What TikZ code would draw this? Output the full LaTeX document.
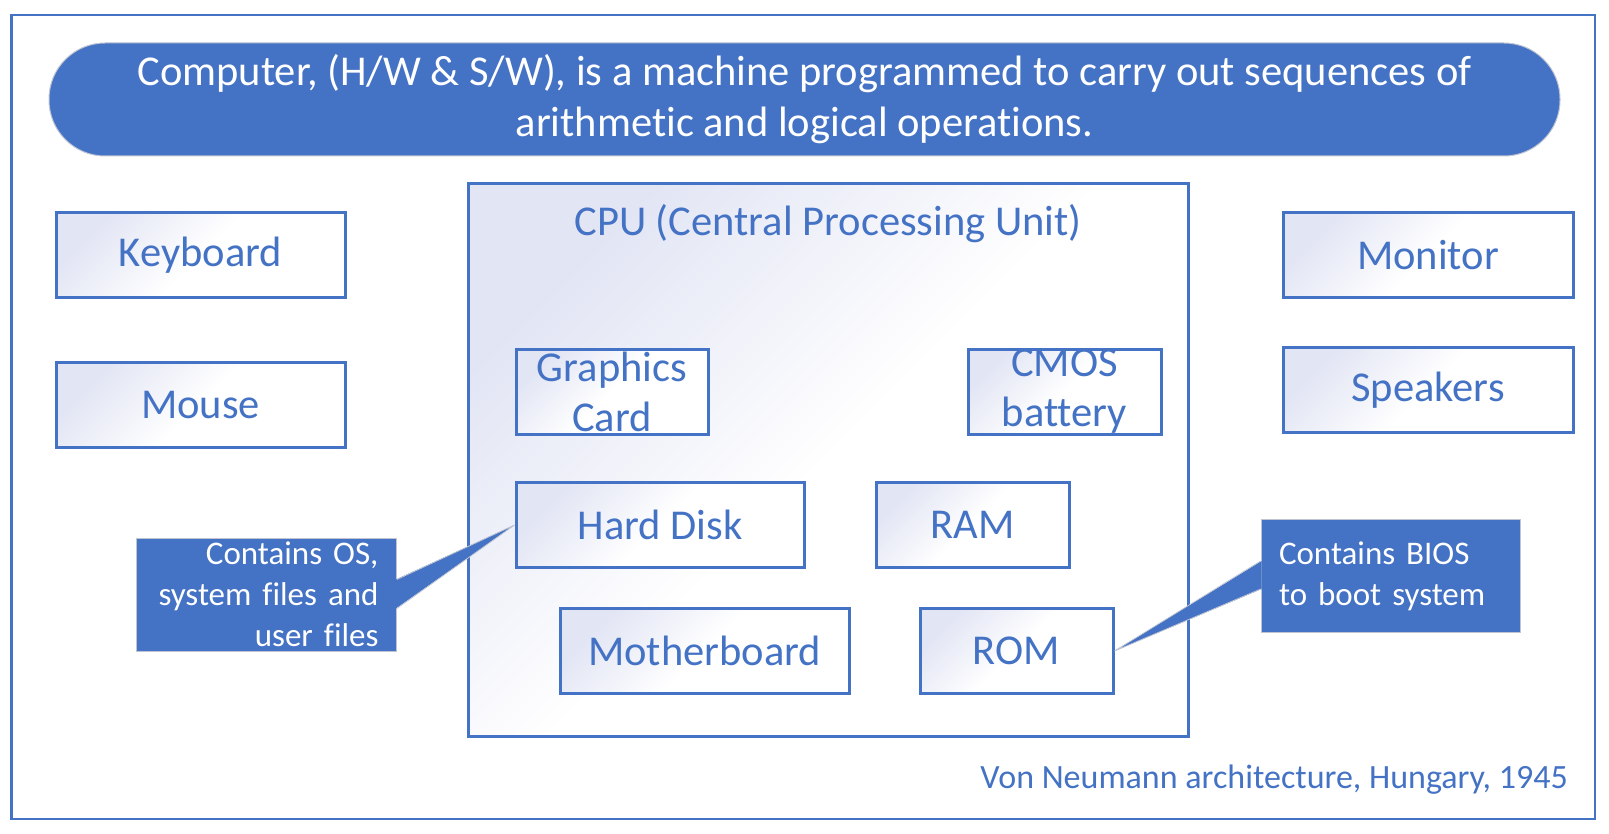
\documentclass[tikz,border=0pt]{standalone}
\usepackage{fontspec}
\setmainfont{Carlito}[Ligatures=NoCommon]
\definecolor{officeblue}{RGB}{68,114,196}
\definecolor{boxtint}{RGB}{226,229,244}
\definecolor{noteedge}{RGB}{190,196,210}
\tikzset{
  hwbox/.style={draw=officeblue, line width=3pt, top color=boxtint, bottom color=white,
    middle color=white, shading angle=45, minimum height=85pt, inner sep=0pt, text=officeblue,
    font=\fontsize{42.5}{50}\selectfont},
  hwlabel/.style={inner sep=0pt, align=center, text=officeblue, font=\fontsize{42.5}{50}\selectfont},
  banner/.style={fill=officeblue, draw=noteedge, line width=1pt, rounded corners=56pt,
    minimum width=1511pt, minimum height=113pt, text=white, align=center,
    font=\fontsize{42.5}{51}\selectfont},
  note/.style={fill=officeblue, draw=noteedge, line width=0.8pt, minimum height=113pt,
    inner xsep=18pt, inner ysep=0pt, text=white, font=\fontsize{33}{41}\selectfont},
}
\begin{document}
\begin{tikzpicture}[x=1pt,y=-1pt]
\useasboundingbox (0,0) rectangle (1609,834);
\draw[officeblue, line width=2.5pt] (11.5,15) rectangle (1595,819);

\node[banner] (definition) at (804.5,99.5) {Computer, (H/W \& S/W), is a machine programmed to carry out sequences of\\arithmetic and logical operations.};

\node[hwbox, minimum width=289pt] (keyboard) at (200.5,255.5) {Keyboard};
\node[hwbox, minimum width=289pt] (mouse) at (200.5,405) {Mouse};
\node[hwbox, minimum width=290pt] (monitor) at (1428,255.5) {Monitor};
\node[hwbox, minimum width=290pt] (speakers) at (1428,390) {Speakers};

\begin{scope}
\node[hwbox, minimum width=720pt, minimum height=552pt] (cpu) at (828,460) {};
\node[hwlabel] (cputitle) at (828,224) {CPU (Central Processing Unit)};
\node[hwbox, minimum width=192pt] (gpu) at (612,391.5) {};
\node[hwlabel] (gputext) at (gpu) {Graphics\\Card};
\node[hwbox, minimum width=193pt] (cmos) at (1064.5,391.5) {};
\node[hwlabel] (cmostext) at (cmos) {CMOS\\battery};
\node[hwbox, minimum width=288pt] (hdd) at (660,525) {Hard Disk};
\node[hwbox, minimum width=193pt] (ram) at (972.5,525) {RAM};
\node[hwbox, minimum width=289pt] (mobo) at (704.5,651) {Motherboard};
\node[hwbox, minimum width=193pt] (rom) at (1016.5,651) {ROM};
\end{scope}

\node[note, text width=224pt, align=right] (osnote) at (266.5,594.5) {Contains OS,\\system files and\\user files};
\fill[officeblue] ([xshift=-1pt,yshift=15pt]osnote.east) -- (hdd.west) -- ([xshift=-1pt,yshift=-14pt]osnote.east) -- cycle;
\draw[noteedge, line width=0.8pt] ([yshift=15pt]osnote.east) -- (hdd.west) -- ([yshift=-14pt]osnote.east);

\node[note, minimum width=259pt, text width=223pt, align=left] (biosnote) at (1390.5,576) {Contains BIOS\\to boot system};
\fill[officeblue] ([xshift=1pt,yshift=15pt]biosnote.west) -- (rom.east) -- ([xshift=1pt,yshift=-13pt]biosnote.west) -- cycle;
\draw[noteedge, line width=0.8pt] ([yshift=15pt]biosnote.west) -- (rom.east) -- ([yshift=-13pt]biosnote.west);

\node[anchor=east, inner sep=0pt, text=officeblue, font=\fontsize{34}{40}\selectfont] (credit) at (1568,780) {Von Neumann architecture, Hungary, 1945};
\end{tikzpicture}
\end{document}
